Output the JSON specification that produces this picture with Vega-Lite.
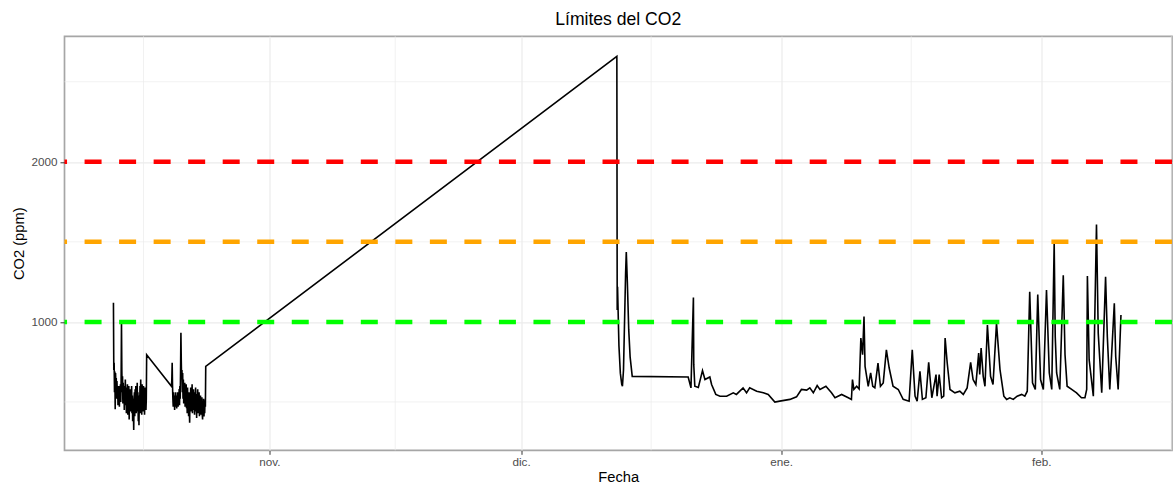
{
  "$schema": "https://vega.github.io/schema/vega-lite/v6.json",
  "width": 1107.5,
  "height": 414,
  "autosize": {"type": "none"},
  "padding": {"left": 64.5, "top": 36.3, "right": 1, "bottom": 40},
  "background": "white",
  "title": {"text": "Límites del CO2"},
  "config": {
    "title": {"font": "Liberation Sans", "fontSize": 17.6, "fontWeight": "normal", "color": "#000000", "anchor": "middle", "offset": 7},
    "view": {"stroke": "#a6a6a6", "strokeWidth": 1.7},
    "axis": {"domain": false, "grid": true, "gridColor": "#ebebeb", "gridWidth": 1.2, "tickColor": "#333333", "tickWidth": 1, "tickSize": 4, "labelColor": "#4d4d4d", "labelFont": "Liberation Sans", "labelFontSize": 11.7, "titleFont": "Liberation Sans", "titleFontSize": 14.7, "titleFontWeight": "normal", "titleColor": "#000000"}
  },
  "datasets": {
    "co2": [
      {"t":"2021-10-13T10:00","co2":1120},{"t":"2021-10-13T11:00","co2":700},{"t":"2021-10-13T12:00","co2":745},{"t":"2021-10-13T13:00","co2":560},{"t":"2021-10-13T14:00","co2":690},{"t":"2021-10-13T15:00","co2":455},{"t":"2021-10-13T16:00","co2":680},{"t":"2021-10-13T17:00","co2":610},{"t":"2021-10-13T18:00","co2":650},{"t":"2021-10-13T19:00","co2":520},{"t":"2021-10-13T20:00","co2":630},{"t":"2021-10-13T21:00","co2":560},{"t":"2021-10-13T22:00","co2":600},{"t":"2021-10-13T23:00","co2":480},
      {"t":"2021-10-14T00:00","co2":590},{"t":"2021-10-14T01:00","co2":530},{"t":"2021-10-14T02:00","co2":600},{"t":"2021-10-14T03:00","co2":470},{"t":"2021-10-14T04:00","co2":570},{"t":"2021-10-14T05:00","co2":520},{"t":"2021-10-14T06:00","co2":610},{"t":"2021-10-14T07:00","co2":500},{"t":"2021-10-14T08:00","co2":640},{"t":"2021-10-14T09:00","co2":996},{"t":"2021-10-14T10:00","co2":700},{"t":"2021-10-14T11:00","co2":560},{"t":"2021-10-14T12:00","co2":660},{"t":"2021-10-14T13:00","co2":490},{"t":"2021-10-14T14:00","co2":620},{"t":"2021-10-14T15:00","co2":540},{"t":"2021-10-14T16:00","co2":600},{"t":"2021-10-14T17:00","co2":450},{"t":"2021-10-14T18:00","co2":580},{"t":"2021-10-14T19:00","co2":520},{"t":"2021-10-14T20:00","co2":640},{"t":"2021-10-14T21:00","co2":480},{"t":"2021-10-14T22:00","co2":590},{"t":"2021-10-14T23:00","co2":430},
      {"t":"2021-10-15T00:00","co2":560},{"t":"2021-10-15T01:00","co2":500},{"t":"2021-10-15T02:00","co2":610},{"t":"2021-10-15T03:00","co2":420},{"t":"2021-10-15T04:00","co2":570},{"t":"2021-10-15T05:00","co2":480},{"t":"2021-10-15T06:00","co2":600},{"t":"2021-10-15T07:00","co2":390},{"t":"2021-10-15T08:00","co2":550},{"t":"2021-10-15T09:00","co2":470},{"t":"2021-10-15T10:00","co2":580},{"t":"2021-10-15T11:00","co2":440},{"t":"2021-10-15T12:00","co2":560},{"t":"2021-10-15T13:00","co2":500},{"t":"2021-10-15T14:00","co2":600},{"t":"2021-10-15T15:00","co2":430},{"t":"2021-10-15T16:00","co2":540},{"t":"2021-10-15T17:00","co2":380},{"t":"2021-10-15T18:00","co2":520},{"t":"2021-10-15T19:00","co2":450},{"t":"2021-10-15T20:00","co2":325},{"t":"2021-10-15T21:00","co2":520},{"t":"2021-10-15T22:00","co2":560},{"t":"2021-10-15T23:00","co2":410},
      {"t":"2021-10-16T00:00","co2":580},{"t":"2021-10-16T01:00","co2":470},{"t":"2021-10-16T02:00","co2":600},{"t":"2021-10-16T03:00","co2":430},{"t":"2021-10-16T04:00","co2":540},{"t":"2021-10-16T05:00","co2":500},{"t":"2021-10-16T06:00","co2":620},{"t":"2021-10-16T07:00","co2":440},{"t":"2021-10-16T08:00","co2":560},{"t":"2021-10-16T09:00","co2":380},{"t":"2021-10-16T10:00","co2":540},{"t":"2021-10-16T11:00","co2":355},{"t":"2021-10-16T12:00","co2":520},{"t":"2021-10-16T13:00","co2":470},{"t":"2021-10-16T14:00","co2":600},{"t":"2021-10-16T15:00","co2":430},{"t":"2021-10-16T16:00","co2":640},{"t":"2021-10-16T17:00","co2":480},{"t":"2021-10-16T18:00","co2":590},{"t":"2021-10-16T19:00","co2":420},{"t":"2021-10-16T20:00","co2":610},{"t":"2021-10-16T21:00","co2":500},{"t":"2021-10-16T22:00","co2":570},{"t":"2021-10-16T23:00","co2":440},
      {"t":"2021-10-17T00:00","co2":600},{"t":"2021-10-17T01:00","co2":460},{"t":"2021-10-17T02:00","co2":560},{"t":"2021-10-17T03:00","co2":420},{"t":"2021-10-17T04:00","co2":590},{"t":"2021-10-17T05:00","co2":480},{"t":"2021-10-17T06:00","co2":540},{"t":"2021-10-17T07:00","co2":450},{"t":"2021-10-17T08:00","co2":520},{"t":"2021-10-17T09:00","co2":795},
      {"t":"2021-10-20T08:00","co2":598},{"t":"2021-10-20T09:00","co2":640},{"t":"2021-10-20T10:00","co2":745},{"t":"2021-10-20T11:00","co2":600},{"t":"2021-10-20T12:00","co2":520},{"t":"2021-10-20T13:00","co2":470},{"t":"2021-10-20T14:00","co2":560},{"t":"2021-10-20T15:00","co2":500},{"t":"2021-10-20T16:00","co2":540},{"t":"2021-10-20T17:00","co2":450},{"t":"2021-10-20T18:00","co2":530},{"t":"2021-10-20T19:00","co2":480},{"t":"2021-10-20T20:00","co2":560},{"t":"2021-10-20T21:00","co2":470},{"t":"2021-10-20T22:00","co2":520},{"t":"2021-10-20T23:00","co2":460},
      {"t":"2021-10-21T00:00","co2":540},{"t":"2021-10-21T01:00","co2":490},{"t":"2021-10-21T02:00","co2":560},{"t":"2021-10-21T03:00","co2":470},{"t":"2021-10-21T04:00","co2":530},{"t":"2021-10-21T05:00","co2":500},{"t":"2021-10-21T06:00","co2":580},{"t":"2021-10-21T07:00","co2":480},{"t":"2021-10-21T08:00","co2":600},{"t":"2021-10-21T09:00","co2":520},{"t":"2021-10-21T10:00","co2":700},{"t":"2021-10-21T11:00","co2":932},{"t":"2021-10-21T12:00","co2":760},{"t":"2021-10-21T13:00","co2":640},{"t":"2021-10-21T14:00","co2":700},{"t":"2021-10-21T15:00","co2":560},{"t":"2021-10-21T16:00","co2":680},{"t":"2021-10-21T17:00","co2":520},{"t":"2021-10-21T18:00","co2":640},{"t":"2021-10-21T19:00","co2":490},{"t":"2021-10-21T20:00","co2":600},{"t":"2021-10-21T21:00","co2":540},{"t":"2021-10-21T22:00","co2":620},{"t":"2021-10-21T23:00","co2":470},
      {"t":"2021-10-22T00:00","co2":580},{"t":"2021-10-22T01:00","co2":500},{"t":"2021-10-22T02:00","co2":610},{"t":"2021-10-22T03:00","co2":460},{"t":"2021-10-22T04:00","co2":560},{"t":"2021-10-22T05:00","co2":430},{"t":"2021-10-22T06:00","co2":590},{"t":"2021-10-22T07:00","co2":480},{"t":"2021-10-22T08:00","co2":540},{"t":"2021-10-22T09:00","co2":410},{"t":"2021-10-22T10:00","co2":560},{"t":"2021-10-22T11:00","co2":450},{"t":"2021-10-22T12:00","co2":370},{"t":"2021-10-22T13:00","co2":540},{"t":"2021-10-22T14:00","co2":470},{"t":"2021-10-22T15:00","co2":590},{"t":"2021-10-22T16:00","co2":440},{"t":"2021-10-22T17:00","co2":560},{"t":"2021-10-22T18:00","co2":500},{"t":"2021-10-22T19:00","co2":610},{"t":"2021-10-22T20:00","co2":430},{"t":"2021-10-22T21:00","co2":550},{"t":"2021-10-22T22:00","co2":470},{"t":"2021-10-22T23:00","co2":580},
      {"t":"2021-10-23T00:00","co2":450},{"t":"2021-10-23T01:00","co2":540},{"t":"2021-10-23T02:00","co2":420},{"t":"2021-10-23T03:00","co2":560},{"t":"2021-10-23T04:00","co2":480},{"t":"2021-10-23T05:00","co2":590},{"t":"2021-10-23T06:00","co2":440},{"t":"2021-10-23T07:00","co2":530},{"t":"2021-10-23T08:00","co2":400},{"t":"2021-10-23T09:00","co2":550},{"t":"2021-10-23T10:00","co2":470},{"t":"2021-10-23T11:00","co2":580},{"t":"2021-10-23T12:00","co2":430},{"t":"2021-10-23T13:00","co2":520},{"t":"2021-10-23T14:00","co2":460},{"t":"2021-10-23T15:00","co2":560},{"t":"2021-10-23T16:00","co2":410},{"t":"2021-10-23T17:00","co2":530},{"t":"2021-10-23T18:00","co2":480},{"t":"2021-10-23T19:00","co2":540},{"t":"2021-10-23T20:00","co2":420},{"t":"2021-10-23T21:00","co2":510},{"t":"2021-10-23T22:00","co2":450},{"t":"2021-10-23T23:00","co2":530},
      {"t":"2021-10-24T00:00","co2":420},{"t":"2021-10-24T01:00","co2":390},{"t":"2021-10-24T02:00","co2":500},{"t":"2021-10-24T03:00","co2":440},{"t":"2021-10-24T04:00","co2":520},{"t":"2021-10-24T05:00","co2":410},{"t":"2021-10-24T06:00","co2":490},{"t":"2021-10-24T07:00","co2":430},{"t":"2021-10-24T08:00","co2":510},{"t":"2021-10-24T09:00","co2":470},{"t":"2021-10-24T10:00","co2":722},
      {"t":"2021-12-12T10:00","co2":2658},{"t":"2021-12-12T11:00","co2":1075},{"t":"2021-12-12T12:00","co2":1219},{"t":"2021-12-12T16:00","co2":850},{"t":"2021-12-12T20:00","co2":680},{"t":"2021-12-13T00:00","co2":610},{"t":"2021-12-13T02:00","co2":598},{"t":"2021-12-13T05:00","co2":700},{"t":"2021-12-13T08:00","co2":1000},{"t":"2021-12-13T11:00","co2":1300},{"t":"2021-12-13T13:00","co2":1437},{"t":"2021-12-13T16:00","co2":1250},{"t":"2021-12-13T20:00","co2":950},{"t":"2021-12-14T00:00","co2":780},{"t":"2021-12-14T06:00","co2":660},
      {"t":"2021-12-20T22:00","co2":656},{"t":"2021-12-21T06:00","co2":588},{"t":"2021-12-21T13:00","co2":1153},{"t":"2021-12-21T14:00","co2":733},{"t":"2021-12-21T17:00","co2":598},{"t":"2021-12-22T03:00","co2":590},{"t":"2021-12-22T15:00","co2":696},{"t":"2021-12-22T22:00","co2":640},{"t":"2021-12-23T12:00","co2":656},{"t":"2021-12-23T17:00","co2":609},{"t":"2021-12-24T05:00","co2":547},{"t":"2021-12-24T17:00","co2":536},{"t":"2021-12-25T12:00","co2":536},{"t":"2021-12-26T07:00","co2":557},{"t":"2021-12-26T16:00","co2":547},{"t":"2021-12-27T11:00","co2":588},{"t":"2021-12-27T21:00","co2":557},{"t":"2021-12-28T06:00","co2":588},{"t":"2021-12-29T02:00","co2":567},{"t":"2021-12-29T21:00","co2":557},{"t":"2021-12-30T11:00","co2":547},{"t":"2021-12-31T06:00","co2":499},{"t":"2021-12-31T20:00","co2":505},
      {"t":"2022-01-02T01:00","co2":516},{"t":"2022-01-02T20:00","co2":532},{"t":"2022-01-03T10:00","co2":578},{"t":"2022-01-04T01:00","co2":574},{"t":"2022-01-04T10:00","co2":588},{"t":"2022-01-04T20:00","co2":557},{"t":"2022-01-05T07:00","co2":602},{"t":"2022-01-05T15:00","co2":578},{"t":"2022-01-06T08:00","co2":598},{"t":"2022-01-07T00:00","co2":557},{"t":"2022-01-07T10:00","co2":526},{"t":"2022-01-08T05:00","co2":547},{"t":"2022-01-09T00:00","co2":526},{"t":"2022-01-09T09:00","co2":516},{"t":"2022-01-09T12:00","co2":640},{"t":"2022-01-09T16:00","co2":578},{"t":"2022-01-10T00:00","co2":598},{"t":"2022-01-10T07:00","co2":581},{"t":"2022-01-10T12:00","co2":899},{"t":"2022-01-10T17:00","co2":795},{"t":"2022-01-10T21:00","co2":1033},{"t":"2022-01-11T00:00","co2":722},{"t":"2022-01-11T09:00","co2":598},{"t":"2022-01-11T16:00","co2":681},{"t":"2022-01-11T22:00","co2":598},{"t":"2022-01-12T04:00","co2":588},{"t":"2022-01-12T13:00","co2":743},{"t":"2022-01-12T20:00","co2":598},{"t":"2022-01-13T04:00","co2":619},{"t":"2022-01-13T13:00","co2":826},{"t":"2022-01-13T21:00","co2":712},{"t":"2022-01-14T08:00","co2":598},{"t":"2022-01-14T23:00","co2":578},{"t":"2022-01-15T13:00","co2":516},{"t":"2022-01-16T06:00","co2":505},{"t":"2022-01-16T15:00","co2":826},{"t":"2022-01-16T23:00","co2":536},{"t":"2022-01-17T05:00","co2":505},{"t":"2022-01-17T13:00","co2":691},{"t":"2022-01-17T20:00","co2":516},{"t":"2022-01-18T06:00","co2":526},{"t":"2022-01-18T14:00","co2":747},{"t":"2022-01-18T23:00","co2":526},
      {"t":"2022-01-19T11:00","co2":671},{"t":"2022-01-19T14:00","co2":536},{"t":"2022-01-19T20:00","co2":671},{"t":"2022-01-20T03:00","co2":526},{"t":"2022-01-20T09:00","co2":536},{"t":"2022-01-20T13:00","co2":899},{"t":"2022-01-20T19:00","co2":743},{"t":"2022-01-21T03:00","co2":578},{"t":"2022-01-21T17:00","co2":557},{"t":"2022-01-22T07:00","co2":567},{"t":"2022-01-22T17:00","co2":547},{"t":"2022-01-23T04:00","co2":588},{"t":"2022-01-23T14:00","co2":747},{"t":"2022-01-23T21:00","co2":640},{"t":"2022-01-24T05:00","co2":609},{"t":"2022-01-24T13:00","co2":805},{"t":"2022-01-24T16:00","co2":671},{"t":"2022-01-24T20:00","co2":836},{"t":"2022-01-25T02:00","co2":660},{"t":"2022-01-25T07:00","co2":598},{"t":"2022-01-25T14:00","co2":981},{"t":"2022-01-25T23:00","co2":660},{"t":"2022-01-26T06:00","co2":609},{"t":"2022-01-26T16:00","co2":991},{"t":"2022-01-27T02:00","co2":702},{"t":"2022-01-27T13:00","co2":536},{"t":"2022-01-27T21:00","co2":516},{"t":"2022-01-28T06:00","co2":526},{"t":"2022-01-28T16:00","co2":516},{"t":"2022-01-29T03:00","co2":536},{"t":"2022-01-29T16:00","co2":547},{"t":"2022-01-30T01:00","co2":536},{"t":"2022-01-30T08:00","co2":567},{"t":"2022-01-30T15:00","co2":1188},{"t":"2022-01-30T23:00","co2":619},{"t":"2022-01-31T07:00","co2":578},{"t":"2022-01-31T14:00","co2":1171},{"t":"2022-01-31T22:00","co2":640},
      {"t":"2022-02-01T06:00","co2":578},{"t":"2022-02-01T15:00","co2":1199},{"t":"2022-02-01T23:00","co2":681},{"t":"2022-02-02T06:00","co2":578},{"t":"2022-02-02T13:00","co2":1493},{"t":"2022-02-02T16:00","co2":909},{"t":"2022-02-02T20:00","co2":681},{"t":"2022-02-03T05:00","co2":578},{"t":"2022-02-03T15:00","co2":1292},{"t":"2022-02-03T20:00","co2":795},{"t":"2022-02-04T02:00","co2":598},{"t":"2022-02-04T15:00","co2":578},{"t":"2022-02-05T05:00","co2":557},{"t":"2022-02-05T19:00","co2":526},{"t":"2022-02-06T05:00","co2":526},{"t":"2022-02-06T10:00","co2":578},{"t":"2022-02-06T12:00","co2":1286},{"t":"2022-02-06T17:00","co2":764},{"t":"2022-02-07T05:00","co2":536},{"t":"2022-02-07T14:00","co2":1609},{"t":"2022-02-07T19:00","co2":930},{"t":"2022-02-08T05:00","co2":557},{"t":"2022-02-08T16:00","co2":1282},{"t":"2022-02-08T21:00","co2":909},{"t":"2022-02-09T04:00","co2":578},{"t":"2022-02-09T17:00","co2":1116},{"t":"2022-02-09T21:00","co2":784},{"t":"2022-02-10T04:00","co2":578},{"t":"2022-02-10T12:00","co2":1043}
    ],
    "limites": [
      {"limite": 1000, "nivel": "bueno"},
      {"limite": 1500, "nivel": "moderado"},
      {"limite": 2000, "nivel": "alto"}
    ],
    "gridx": [
      {"t": "2021-10-17T00:00"}, {"t": "2021-11-16T00:00"}, {"t": "2021-12-16T12:00"}, {"t": "2022-01-16T12:00"}, {"t": "2022-02-16T12:00"}
    ],
    "gridy": [
      {"v": 500}, {"v": 1500}, {"v": 2500}
    ]
  },
  "layer": [
    {
      "data": {"name": "gridx"},
      "mark": {"type": "rule", "color": "#ebebeb", "strokeWidth": 0.7},
      "encoding": {
        "x": {"field": "t", "type": "temporal", "title": "Fecha",
              "scale": {"domain": [{"year": 2021, "month": 10, "date": 7, "hours": 14}, {"year": 2022, "month": 2, "date": 16, "hours": 14}]},
              "axis": {"values": [{"year": 2021, "month": 11, "date": 1}, {"year": 2021, "month": 12, "date": 1}, {"year": 2022, "month": 1, "date": 1}, {"year": 2022, "month": 2, "date": 1}],
                       "labelExpr": "['ene.','feb.','mar.','abr.','may.','jun.','jul.','ago.','sep.','oct.','nov.','dic.'][month(datum.value)]", "labelPadding": 2.5, "titlePadding": 1, "labelFlush": false}}
      }
    },
    {
      "data": {"name": "gridy"},
      "mark": {"type": "rule", "color": "#ebebeb", "strokeWidth": 0.7},
      "encoding": {
        "y": {"field": "v", "type": "quantitative", "title": "CO2 (ppm)",
              "scale": {"domain": [198, 2784], "nice": false, "zero": false},
              "axis": {"values": [1000, 2000], "format": "d", "labelPadding": 3, "tickSize": 4.5, "titlePadding": 5}}
      }
    },
    {
      "data": {"name": "co2"},
      "mark": {"type": "line", "color": "#000000", "strokeWidth": 1.6},
      "encoding": {
        "x": {"field": "t", "type": "temporal", "title": "Fecha",
              "scale": {"domain": [{"year": 2021, "month": 10, "date": 7, "hours": 14}, {"year": 2022, "month": 2, "date": 16, "hours": 14}]},
              "axis": {"values": [{"year": 2021, "month": 11, "date": 1}, {"year": 2021, "month": 12, "date": 1}, {"year": 2022, "month": 1, "date": 1}, {"year": 2022, "month": 2, "date": 1}],
                       "labelExpr": "['ene.','feb.','mar.','abr.','may.','jun.','jul.','ago.','sep.','oct.','nov.','dic.'][month(datum.value)]", "labelPadding": 2.5, "titlePadding": 1, "labelFlush": false}},
        "y": {"field": "co2", "type": "quantitative", "title": "CO2 (ppm)",
              "scale": {"domain": [198, 2784], "nice": false, "zero": false},
              "axis": {"values": [1000, 2000], "format": "d", "labelPadding": 3, "tickSize": 4.5, "titlePadding": 5}}
      }
    },
    {
      "data": {"name": "limites"},
      "mark": {"type": "rule", "strokeWidth": 4.5, "strokeDash": [17, 17.53]},
      "encoding": {
        "y": {"field": "limite", "type": "quantitative", "title": "CO2 (ppm)",
              "scale": {"domain": [198, 2784], "nice": false, "zero": false},
              "axis": {"values": [1000, 2000], "format": "d", "labelPadding": 3, "tickSize": 4.5, "titlePadding": 5}},
        "color": {"field": "nivel", "type": "nominal", "legend": null,
                  "scale": {"domain": ["bueno", "moderado", "alto"], "range": ["#00ff00", "#ffa500", "#ff0000"]}}
      }
    }
  ]
}
